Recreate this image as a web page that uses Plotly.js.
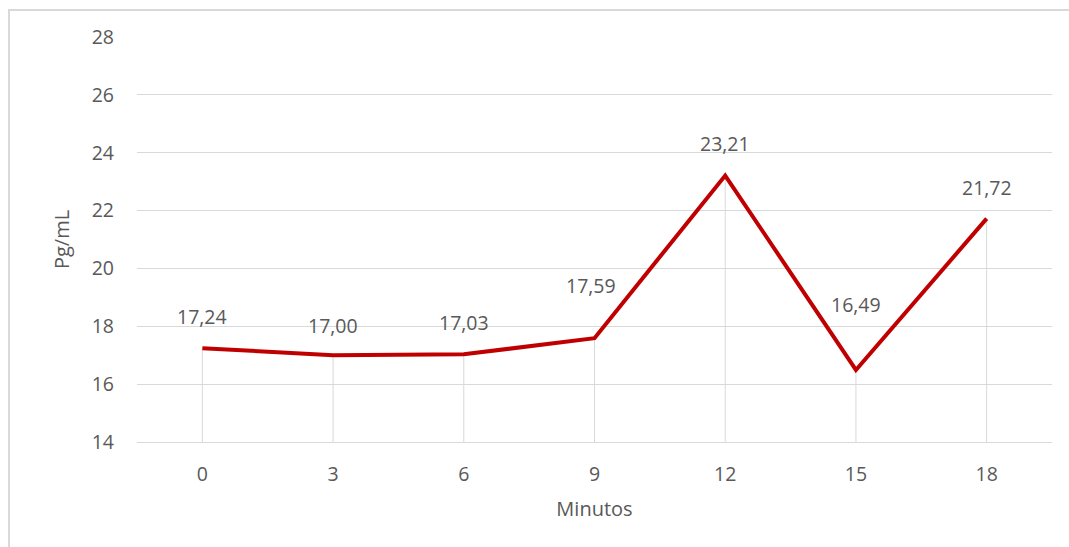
<!DOCTYPE html>
<html>
<head>
<meta charset="utf-8">
<script src="https://cdn.plot.ly/plotly-3.0.1.min.js"></script>
<style>
  html, body { margin: 0; padding: 0; background: #fff; overflow: hidden; }
  #wrap { position: relative; width: 1069px; height: 547px; }
  #chart { position: absolute; left: 0; top: 0; width: 1069px; height: 547px; }
  #frame { position: absolute; left: 8px; top: 9px; width: 1100px; height: 600px;
           border: 2px solid #d9d9d9; pointer-events: none; }
</style>
</head>
<body>
<div id="wrap">
  <div id="chart"></div>
  <div id="frame"></div>
</div>
<script>
// Minutes after sampling and measured concentration (pg/mL)
const minutos = [0, 3, 6, 9, 12, 15, 18];
const valores = [17.24, 17.00, 17.03, 17.59, 23.21, 16.49, 21.72];
const yTicks = [14, 16, 18, 20, 22, 24, 26, 28];

const yBase = yTicks[0];
const fmt = v => v.toFixed(2).replace('.', ',');

// Label offsets (pixels) so each value sits clear of the line
const labelDy = [-32, -30, -32, -53, -32, -65, -31];
const labelDx = [0, 0, 0, -4, 0, 0, 0];

const textColor = '#595959';
const fontFam = '"Open Sans", "Noto Sans", sans-serif';

const trace = {
  x: minutos,
  y: valores,
  type: 'scatter',
  mode: 'lines',
  line: { color: '#C00000', width: 4 },
  error_y: {
    type: 'data',
    symmetric: false,
    array: valores.map(() => 0),
    arrayminus: valores.map(v => v - yBase),
    width: 0,
    thickness: 1,
    color: '#d9d9d9'
  },
  hoverinfo: 'skip'
};

const annotations = minutos.map((m, i) => ({
  x: m, y: valores[i], xref: 'x', yref: 'y',
  text: fmt(valores[i]),
  showarrow: false,
  xshift: labelDx[i], yshift: -labelDy[i],
  font: { family: fontFam, size: 19.5, color: textColor }
}));

const layout = {
  width: 1069, height: 547,
  margin: { l: 137, r: 17, t: 37, b: 105, pad: 0 },
  paper_bgcolor: '#fff', plot_bgcolor: '#fff',
  showlegend: false,
  font: { family: fontFam, size: 19.5, color: textColor },
  xaxis: {
    range: [-1.5, 19.5],
    tickvals: minutos,
    ticktext: minutos.map(String),
    showgrid: false, zeroline: false,
    showline: true, linecolor: '#d9d9d9', linewidth: 1,
    ticks: '',
    ticklabelstandoff: 15,
    title: { text: 'Minutos', font: { family: fontFam, size: 20, color: textColor }, standoff: 15 }
  },
  yaxis: {
    range: [yTicks[0], yTicks[yTicks.length - 1]],
    tickvals: yTicks,
    ticktext: yTicks.map(String),
    showgrid: true, gridcolor: '#d9d9d9', gridwidth: 1,
    zeroline: false, showline: false, ticks: '',
    ticklabelstandoff: 22,
    title: { text: 'Pg/mL', font: { family: fontFam, size: 20, color: textColor }, standoff: 16 }
  },
  annotations: annotations
};

Plotly.newPlot('chart', [trace], layout, { staticPlot: true, displayModeBar: false });
</script>
</body>
</html>
